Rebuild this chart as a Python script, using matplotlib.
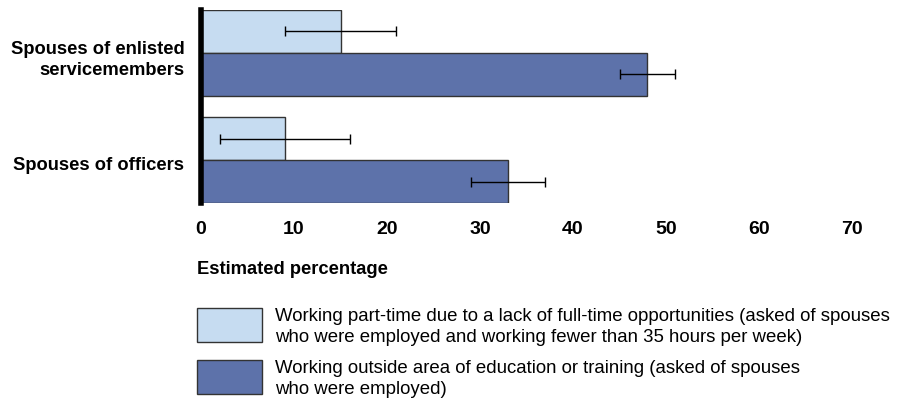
import matplotlib.pyplot as plt
import numpy as np
from matplotlib.patches import Rectangle

plt.rcParams['font.family'] = ['Liberation Sans', 'DejaVu Sans']

# data
groups = ["Spouses of enlisted\nservicemembers", "Spouses of officers"]
parttime = [15, 9]
parttime_lo = [9, 2]
parttime_hi = [21, 16]
outside = [48, 33]
outside_lo = [45, 29]
outside_hi = [51, 37]
xticks = [0, 10, 20, 30, 40, 50, 60, 70]
legend_labels = [
    "Working part-time due to a lack of full-time opportunities (asked of spouses\n"
    "who were employed and working fewer than 35 hours per week)",
    "Working outside area of education or training (asked of spouses\n"
    "who were employed)",
]

light = "#c6dcf1"
dark = "#5d72aa"
edge = "#333333"

fig = plt.figure(figsize=(9.04, 4.01), dpi=100)
ax = fig.add_axes([201 / 904, 1 - 203 / 401, (852 - 201) / 904, 193 / 401])

y = np.array([1, 0])
h = 0.4
ax.barh(y + h / 2, parttime, height=h, color=light, edgecolor=edge, linewidth=1)
ax.barh(y - h / 2, outside, height=h, color=dark, edgecolor=edge, linewidth=1)

pt = np.array(parttime)
ot = np.array(outside)
ax.errorbar(pt, y + h / 2,
            xerr=[pt - np.array(parttime_lo), np.array(parttime_hi) - pt],
            fmt='none', ecolor='black', elinewidth=1, capsize=3.5, capthick=1)
ax.errorbar(ot, y - h / 2,
            xerr=[ot - np.array(outside_lo), np.array(outside_hi) - ot],
            fmt='none', ecolor='black', elinewidth=1, capsize=3.5, capthick=1)

ax.set_xlim(0, 70)
ax.set_ylim(-0.4, 1.4)
ax.set_xticks(xticks)
ax.set_xticklabels([str(t) for t in xticks], fontsize=14, fontweight='bold')
ax.set_yticks(y - 0.03)
ax.set_yticklabels(groups, fontsize=13.2, fontweight='bold', ha='right',
                   linespacing=1.3)
ax.tick_params(axis='both', length=0)
ax.tick_params(axis='x', pad=13)
ax.tick_params(axis='y', pad=12)
for s in ['top', 'right', 'bottom']:
    ax.spines[s].set_visible(False)
ax.spines['left'].set_linewidth(4)
ax.spines['left'].set_color('black')

fig.text(197 / 904, 1 - 270 / 401, "Estimated percentage", fontsize=13.2,
         fontweight='bold', va='center', ha='left')

# legend
for i, (lab, col) in enumerate(zip(legend_labels, [light, dark])):
    top = 308 + i * 52
    fig.patches.append(Rectangle((197 / 904, 1 - (top + 34) / 401), 65 / 904, 34 / 401,
                                 transform=fig.transFigure, facecolor=col,
                                 edgecolor=edge, linewidth=1))
    fig.text(275 / 904, 1 - (top + 19) / 401, lab, fontsize=13.4, va='center',
             ha='left', linespacing=1.3)

fig.savefig("out.png", dpi=100)
